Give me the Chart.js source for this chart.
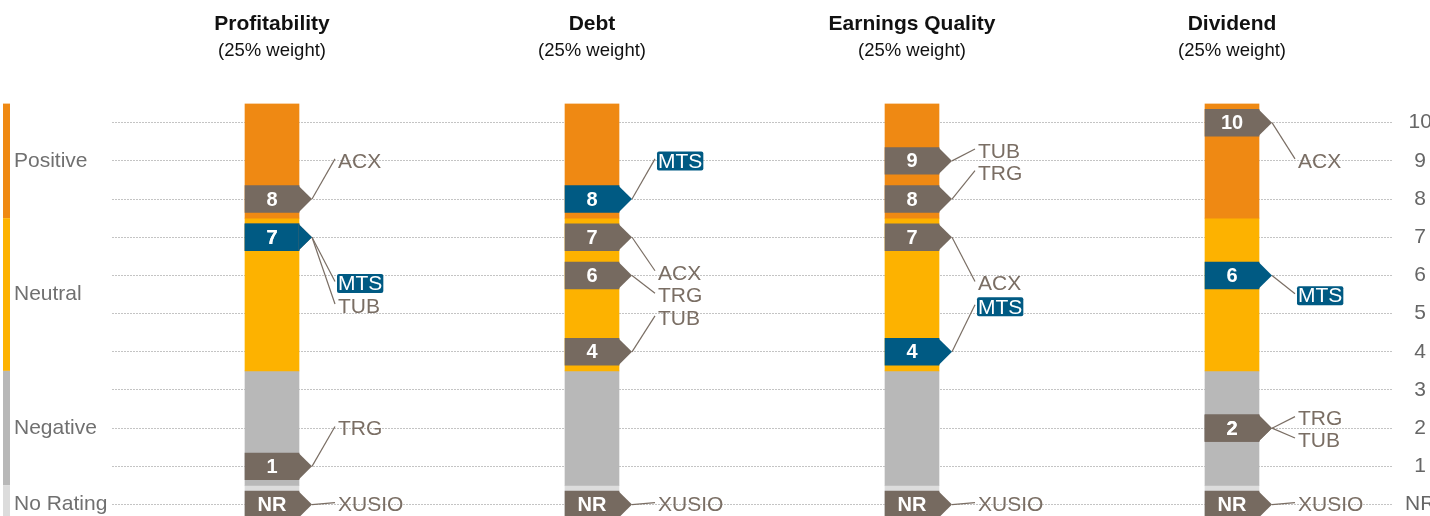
<!DOCTYPE html>
<html>
<head>
<meta charset="utf-8">
<script src="https://cdn.jsdelivr.net/npm/chart.js@4"></script>
<style>
  html, body { margin: 0; padding: 0; background: #fff; }
  #wrap { width: 1430px; height: 516px; }
</style>
</head>
<body>
<div id="wrap"><canvas id="scoreChart" width="1430" height="516"></canvas></div>
<script>
/* DATA */
const criteria = ["Profitability", "Debt", "Earnings Quality", "Dividend"];
const weights = ["(25% weight)", "(25% weight)", "(25% weight)", "(25% weight)"];
const bandNames = ["Positive", "Neutral", "Negative", "No Rating"];
const bandFrom = [7.5, 3.5, 0.5, -0.5];
const bandTo = [10.5, 7.5, 3.5, 0.5];
const tickValues = [0, 1, 2, 3, 4, 5, 6, 7, 8, 9, 10];
// 0 = NR
const companies = ["MTS", "ACX", "TUB", "TRG", "XUSIO"];
const mtsScores = [7, 8, 4, 6];
const acxScores = [8, 7, 7, 10];
const tubScores = [7, 4, 9, 2];
const trgScores = [1, 6, 8, 2];
const xusioScores = [0, 0, 0, 0];
const companyScores = [mtsScores, acxScores, tubScores, trgScores, xusioScores];

/* LAYOUT: where each company label sits on the value scale, per column */
const labelSlots = [
    { MTS: 5.79, ACX: 9.0, TUB: 5.2, TRG: 1.99, XUSIO: 0 },
    { MTS: 9.0, ACX: 6.07, TUB: 4.89, TRG: 5.48, XUSIO: 0 },
    { MTS: 5.18, ACX: 5.79, TUB: 9.26, TRG: 8.69, XUSIO: 0 },
    { MTS: 5.47, ACX: 9.0, TUB: 1.69, TRG: 2.25, XUSIO: 0 }
];

const bandColors = ["#EF8913", "#FDB200", "#B8B8B8", "#DCDCDC"];
const markerGray = "#766A60";
const markerBlue = "#005A83";
const labelGray = "#7A6E64";
const FONT = "'Liberation Sans', Arial, sans-serif";
const markerHalf = 0.35;
const tipLen = 13;

const bandSets = bandNames.map((name, i) => ({
    label: name,
    data: criteria.map(() => [bandFrom[i], bandTo[i]]),
    backgroundColor: bandColors[i],
    order: 2
}));

const markerSets = companies.map((name, i) => ({
    label: name,
    data: companyScores[i].map(s => [s - markerHalf, s + markerHalf]),
    scores: companyScores[i],
    backgroundColor: name === "MTS" ? markerBlue : markerGray,
    isMarker: true,
    order: 1
}));

const decorPlugin = {
    id: "decor",
    beforeDatasetsDraw(chart) {
        const ctx = chart.ctx;
        const y = chart.scales.y;
        const x = chart.scales.x;
        ctx.save();
        // left band strip + band names
        bandNames.forEach((name, i) => {
            const top = y.getPixelForValue(bandTo[i]);
            const bottom = Math.min(y.getPixelForValue(bandFrom[i]), chart.height);
            ctx.fillStyle = bandColors[i];
            ctx.fillRect(3, top, 7, bottom - top);
            const mid = y.getPixelForValue(Math.max((bandFrom[i] + bandTo[i]) / 2, 0));
            ctx.fillStyle = "#707070";
            ctx.font = "21px " + FONT;
            ctx.textAlign = "left";
            ctx.textBaseline = "middle";
            ctx.fillText(name, 14, mid);
        });
        // column titles
        criteria.forEach((c, i) => {
            const cx = x.getPixelForValue(i);
            ctx.fillStyle = "#111";
            ctx.textAlign = "center";
            ctx.textBaseline = "middle";
            ctx.font = "bold 21px " + FONT;
            ctx.fillText(c, cx, 24);
            ctx.font = "18.5px " + FONT;
            ctx.fillText(weights[i], cx, 51);
        });
        ctx.restore();
    },
    afterDatasetsDraw(chart) {
        const ctx = chart.ctx;
        const y = chart.scales.y;
        ctx.save();
        const metas = chart.getSortedVisibleDatasetMetas().filter(m => chart.data.datasets[m.index].isMarker);
        // leader lines and labels first
        metas.forEach(meta => {
            const ds = chart.data.datasets[meta.index];
            meta.data.forEach((el, j) => {
                const right = el.x + el.width / 2;
                const mid = y.getPixelForValue(ds.scores[j]);
                const tipX = right + tipLen;
                const lx = tipX + 26;
                const ly = y.getPixelForValue(labelSlots[j][ds.label]);
                ctx.strokeStyle = labelGray;
                ctx.lineWidth = 1.2;
                ctx.beginPath();
                ctx.moveTo(tipX, mid);
                ctx.lineTo(lx - 3, ly - 2);
                ctx.stroke();
                ctx.font = "21px " + FONT;
                ctx.textAlign = "left";
                ctx.textBaseline = "middle";
                if (ds.label === "MTS") {
                    const w = ctx.measureText(ds.label).width;
                    ctx.fillStyle = markerBlue;
                    ctx.beginPath();
                    ctx.roundRect(lx - 1, ly - 9.5, w + 2, 19, 2);
                    ctx.fill();
                    ctx.fillStyle = "#fff";
                } else {
                    ctx.fillStyle = labelGray;
                }
                ctx.fillText(ds.label, lx, ly + 1);
            });
        });
        // arrow tips and numbers, drawn bottom-up like the bars
        for (let k = metas.length - 1; k >= 0; k--) {
            const meta = metas[k];
            const ds = chart.data.datasets[meta.index];
            meta.data.forEach((el, j) => {
                const right = el.x + el.width / 2;
                const top = Math.min(el.y, el.base);
                const bottom = Math.max(el.y, el.base);
                const mid = y.getPixelForValue(ds.scores[j]);
                ctx.fillStyle = ds.backgroundColor;
                ctx.beginPath();
                ctx.moveTo(right - 0.5, top);
                ctx.lineTo(right + tipLen, mid);
                ctx.lineTo(right - 0.5, bottom);
                ctx.closePath();
                ctx.fill();
                ctx.fillStyle = "#fff";
                ctx.font = "bold 20px " + FONT;
                ctx.textAlign = "center";
                ctx.textBaseline = "middle";
                ctx.fillText(ds.scores[j] === 0 ? "NR" : String(ds.scores[j]), el.x, mid + 1);
            });
        }
        ctx.restore();
    }
};

new Chart(document.getElementById("scoreChart"), {
    type: "bar",
    data: {
        labels: criteria,
        datasets: [...markerSets, ...bandSets]
    },
    options: {
        responsive: false,
        animation: false,
        events: [],
        grouped: false,
        barThickness: 54,
        borderWidth: 0,
        layout: { padding: { left: 112, top: 103.6, right: 0, bottom: 0 } },
        plugins: { legend: { display: false }, tooltip: { enabled: false } },
        scales: {
            x: { display: false, offset: true },
            y: {
                position: "right",
                min: -0.3,
                max: 10.5,
                afterBuildTicks: axis => { axis.ticks = tickValues.map(v => ({ value: v })); },
                afterFit: axis => {
                    axis.width = 38;
                    axis.paddingTop = 0;
                    axis.paddingBottom = 0;
                },
                border: { display: false, dash: [2, 1] },
                grid: { color: "#C4C4C4", lineWidth: 1, drawTicks: false },
                ticks: {
                    padding: 13,
                    crossAlign: "center",
                    color: "#666",
                    font: { family: FONT, size: 21 },
                    callback: v => v === 0 ? "NR" : v
                }
            }
        }
    },
    plugins: [decorPlugin]
});
</script>
</body>
</html>
